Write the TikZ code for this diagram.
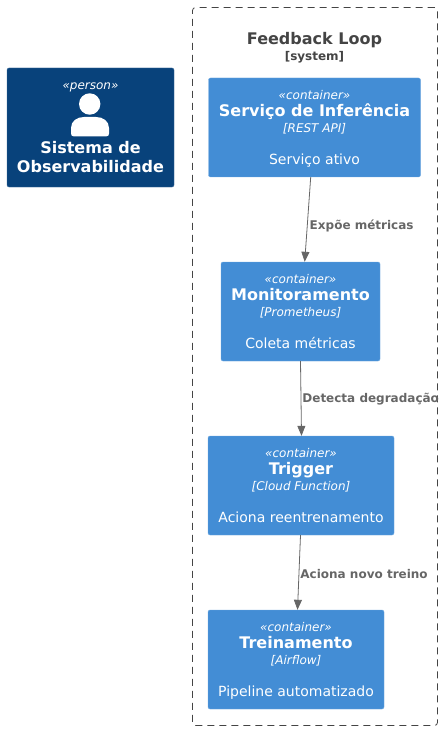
\documentclass[tikz,border=0pt]{standalone}
\usepackage{fontspec}
\setmainfont{DejaVu Sans}
\usepackage{xcolor}
\usetikzlibrary{arrows.meta,positioning}
\definecolor{containerblue}{HTML}{438DD5}
\definecolor{containerline}{HTML}{6FA8E0}
\definecolor{personblue}{HTML}{08427B}
\definecolor{personline}{HTML}{3A6A9A}
\definecolor{relgray}{HTML}{666666}
\definecolor{titlegray}{HTML}{444444}
\newcommand{\containertext}[3]{%
	\rule[-3pt]{0pt}{16.5pt}{\fontsize{12}{15}\itshape «container»}\\[0pt]
	\rule[-4pt]{0pt}{17pt}{\fontsize{16}{17}\bfseries #1}\\[-0.5pt]
	\rule[-4pt]{0pt}{15pt}{\fontsize{12}{15}\itshape [#2]}\\[15.5pt]
	\rule[-4pt]{0pt}{16pt}{\fontsize{14}{16}\selectfont #3}}

\begin{document}
\begin{tikzpicture}[
		x=1pt,
		y=1pt,
		node distance=174pt,
		container/.style={
			draw=containerline,
			fill=containerblue,
			text=white,
			rounded corners=2pt,
			align=center,
			inner sep=0pt,
			minimum height=99pt
		},
		rel/.style={
			draw=relgray,
			line width=0.8pt,
			-{Stealth[length=10pt,width=8pt,inset=0pt]}
		},
		rellabel/.style={
			right,
			inner sep=0pt,
			text=relgray,
			font=\fontsize{12}{14}\bfseries
		}
		]
		
		\useasboundingbox (0,0) rectangle (445,-730);
		
		\node (loop) [draw=titlegray,line width=0.8pt,dash pattern=on 7pt off 5pt,rounded corners=3pt,inner sep=0pt,minimum width=245pt,minimum height=718pt] at (315,-366.5) {};
		\node (title) [inner sep=0pt,align=center,text=titlegray] at (314.5,-47.5) {{\fontsize{16}{18}\bfseries Feedback Loop}\\[3pt]{\fontsize{12}{14}\bfseries [system]}};
		
		\node (a) [container,minimum width=212pt] at (314.5,-127.5) {\containertext{Serviço de Inferência}{REST API}{Serviço ativo}};
		
		\node (b) [container,minimum width=159pt,below of=a,yshift=-10pt,xshift=-14pt] {\containertext{Monitoramento}{Prometheus}{Coleta métricas}};
		
		\node (c) [container,minimum width=186pt,below of=b,xshift=0.5pt] {\containertext{Trigger}{Cloud Function}{Aciona reentrenamento}};
		
		\node (d) [container,minimum width=176pt,below of=c,xshift=-5pt] {\containertext{Treinamento}{Airflow}{Pipeline automatizado}};
		
		\node (person) [fill=personblue,draw=personline,rounded corners=2pt,text=white,align=center,inner sep=0pt,minimum width=167pt,minimum height=119pt] at (90.5,-127.5) {{\fontsize{12}{15}\itshape «person»}\\[49pt]{\fontsize{16}{18}\bfseries Sistema de}\\[5pt]{\fontsize{16}{18}\bfseries Observabilidade}};
		
		% person icon
		\fill[white] (89.7,-104) circle (10.7);
		\fill[white] (74,-136.5) .. controls (72,-136.5) and (71,-135.5) .. (71,-133.5) -- (71,-128) .. controls (71,-121) and (77,-117) .. (84,-117) -- (96,-117) .. controls (103,-117) and (109,-121) .. (109,-128) -- (109,-133.5) .. controls (109,-135.5) and (108,-136.5) .. (106,-136.5) -- cycle;
		
		\draw[rel] ([xshift=-3.8pt]a.south) -- node[rellabel,pos=0.56,xshift=2pt,yshift=-1.2pt] {Expõe métricas} ([xshift=4.2pt]b.north);
		\draw[rel] (b.south) -- node[rellabel,pos=0.5,xshift=1pt,yshift=-1pt] {Detecta degradação} ([xshift=0.5pt]c.north);
		\draw[rel] ([xshift=-0.5pt]c.south) -- node[rellabel,pos=0.5,xshift=1pt,yshift=-1.7pt] {Aciona novo treino} ([xshift=1.5pt]d.north);
		
	\end{tikzpicture}
\end{document}
